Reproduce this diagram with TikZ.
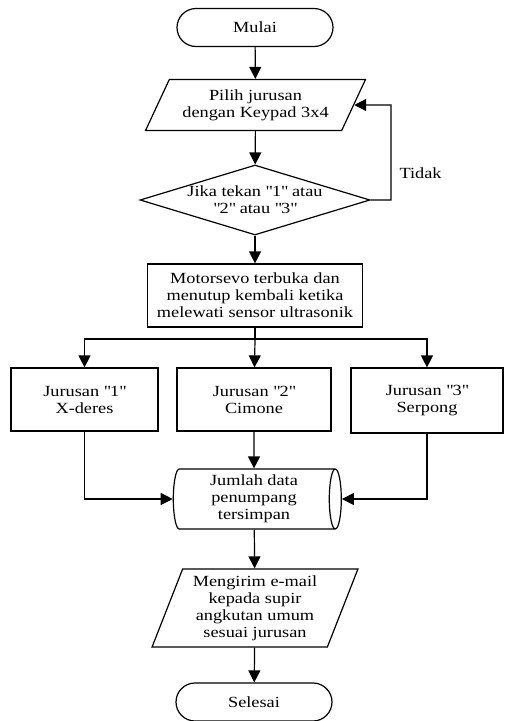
\documentclass[tikz,border=0pt]{standalone}
\usepackage{fontspec}
\setmainfont{Liberation Serif}[FakeStretch=1.18]
\usetikzlibrary{shapes.geometric,shapes.misc,arrows.meta}
\newcommand{\qt}[1]{\textquotedbl#1\textquotedbl}

\begin{document}
\begin{tikzpicture}[x=1pt,y=-1pt,line width=1.2pt,
   font=\fontsize{15.5}{17}\selectfont,
   every node/.style={align=center,inner sep=0pt},
   terminal/.style={draw,rounded rectangle,minimum width=156pt,minimum height=38pt},
   io/.style={draw,trapezium,trapezium stretches=true},
   proc/.style={draw,rectangle,minimum height=63pt},
   decision/.style={draw,diamond,aspect=3.3,minimum width=230pt,minimum height=70pt},
   storage/.style={draw,cylinder,aspect=0.25,minimum width=60pt,minimum height=168pt},
   arr/.style={-{Triangle[length=12pt,width=12pt]}}]
   \useasboundingbox (0,0) rectangle (504,721);
   % nodes
   \node[terminal] (start) at (255,27.5) {Mulai};
   \node[io,trapezium left angle=57,trapezium right angle=123,
         minimum width=220pt,minimum height=51pt] (pilih) at (255.5,105)
         {Pilih jurusan\\dengan Keypad 3x4};
   \node[decision] (cek) at (255,200) {Jika tekan \qt{1} atau\\\qt{2} atau \qt{3}};
   \node[proc,minimum width=215pt] (servo) at (255,295.5)
         {Motorsevo terbuka dan\\menutup kembali ketika\\melewati sensor ultrasonik};
   \coordinate (cabang) at (255,339);
   \node[proc,minimum width=147pt] (jur1) at (84.5,399.5) {Jurusan \qt{1}\\X-deres};
   \node[proc,minimum width=154pt] (jur2) at (254,399.5) {Jurusan \qt{2}\\Cimone};
   \node[proc,minimum width=152pt,minimum height=65pt] (jur3) at (427,400.5) {Jurusan \qt{3}\\Serpong};
   \node[storage] (simpan) at (254,499) {Jumlah data\\penumpang\\tersimpan};
   \node[io,trapezium left angle=68,trapezium right angle=112,
         minimum width=206pt,minimum height=78pt] (kirim) at (255,608)
         {Mengirim e-mail\\kepada supir\\angkutan umum\\sesuai jurusan};
   \node[terminal] (stop) at (254,702) {Selesai};
   \coordinate (balik) at (391,105);
   \node[anchor=west] (tidak) at (399,173) {Tidak};
   % arrows
   \draw[arr] (start) -- (pilih);
   \draw[arr] (pilih) -- (cek);
   \draw[arr] (cek.east) -| (balik) -- (pilih.east);
   \draw[arr] (cek) -- (servo);
   \draw (servo) -- (cabang);
   \draw[arr] (cabang) -| (jur1.north);
   \draw[arr] (cabang) -- (jur2);
   \draw[arr] (cabang) -| (jur3.north);
   \draw[arr] (jur1.south) |- (simpan.west);
   \draw[arr] (jur2) -- (simpan);
   \draw[arr] (jur3.south) |- (simpan.east);
   \draw[arr] (simpan) -- (kirim);
   \draw[arr] (kirim) -- (stop);
\end{tikzpicture}
\end{document}
